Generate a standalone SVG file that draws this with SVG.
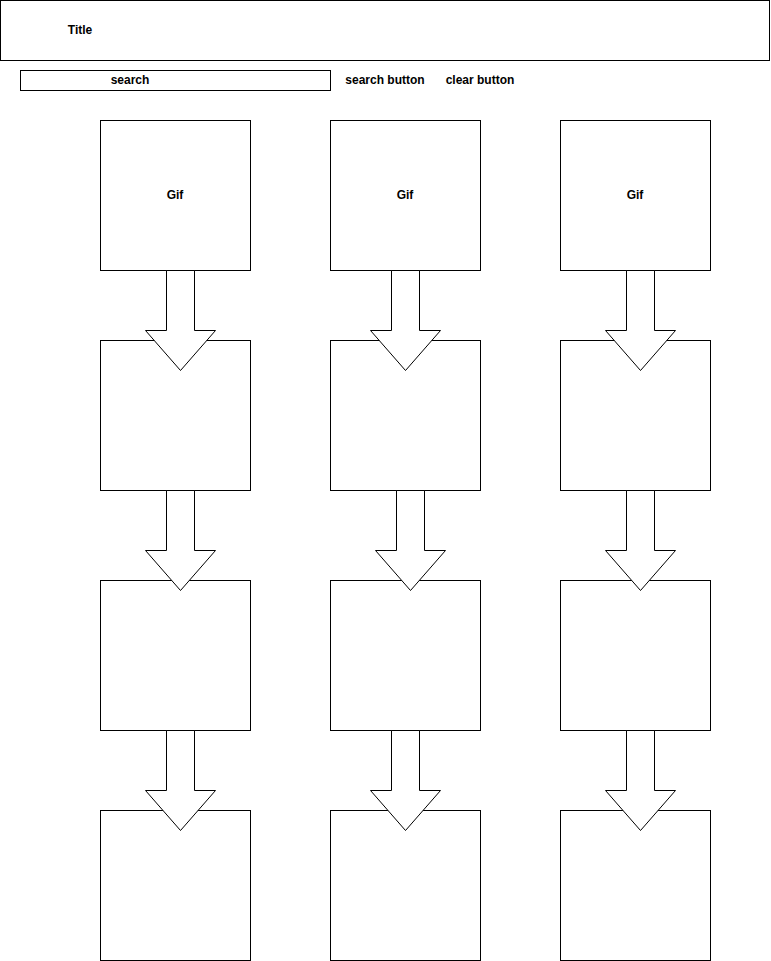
<svg xmlns="http://www.w3.org/2000/svg" width="771" height="961" viewBox="0 0 771 961">
<style>
.b{fill:#fff;stroke:#000;stroke-width:1}
.t{font-family:"Liberation Sans",Arial,sans-serif;font-size:12px;font-weight:bold;fill:#000;text-anchor:middle;dominant-baseline:central}
.a{fill:#fff;stroke:#000;stroke-width:1;stroke-linejoin:miter}
</style>
<rect width="771" height="961" fill="#fff"/>
<g id="title"><rect class="b" x="0.5" y="0.5" width="769" height="60"/><text class="t" x="80" y="30">Title</text></g>
<g id="search"><rect class="b" x="20.5" y="70.5" width="310" height="20"/><text class="t" x="130" y="80">search</text></g>
<g id="search-button"><text class="t" x="385" y="80">search button</text></g>
<g id="clear-button"><text class="t" x="480" y="80">clear button</text></g>
<g id="gif1"><rect class="b" x="100.5" y="120.5" width="150" height="150"/><text class="t" x="175" y="195">Gif</text></g>
<g id="gif2"><rect class="b" x="330.5" y="120.5" width="150" height="150"/><text class="t" x="405" y="195">Gif</text></g>
<g id="gif3"><rect class="b" x="560.5" y="120.5" width="150" height="150"/><text class="t" x="635" y="195">Gif</text></g>
<g id="box-1-2"><rect class="b" x="100.5" y="340.5" width="150" height="150"/></g>
<g id="box-2-2"><rect class="b" x="330.5" y="340.5" width="150" height="150"/></g>
<g id="box-3-2"><rect class="b" x="560.5" y="340.5" width="150" height="150"/></g>
<g id="box-1-3"><rect class="b" x="100.5" y="580.5" width="150" height="150"/></g>
<g id="box-2-3"><rect class="b" x="330.5" y="580.5" width="150" height="150"/></g>
<g id="box-3-3"><rect class="b" x="560.5" y="580.5" width="150" height="150"/></g>
<g id="box-1-4"><rect class="b" x="100.5" y="810.5" width="150" height="150"/></g>
<g id="box-2-4"><rect class="b" x="330.5" y="810.5" width="150" height="150"/></g>
<g id="box-3-4"><rect class="b" x="560.5" y="810.5" width="150" height="150"/></g>
<g id="connectors">
<polygon class="a" points="166.5,270.5 194.5,270.5 194.5,330.5 215.5,330.5 180.5,370.5 145.5,330.5 166.5,330.5"/>
<polygon class="a" points="391.5,270.5 419.5,270.5 419.5,330.5 440.5,330.5 405.5,370.5 370.5,330.5 391.5,330.5"/>
<polygon class="a" points="626.5,270.5 654.5,270.5 654.5,330.5 675.5,330.5 640.5,370.5 605.5,330.5 626.5,330.5"/>
<polygon class="a" points="166.5,490.5 194.5,490.5 194.5,550.5 215.5,550.5 180.5,590.5 145.5,550.5 166.5,550.5"/>
<polygon class="a" points="396.5,490.5 424.5,490.5 424.5,550.5 445.5,550.5 410.5,590.5 375.5,550.5 396.5,550.5"/>
<polygon class="a" points="626.5,490.5 654.5,490.5 654.5,550.5 675.5,550.5 640.5,590.5 605.5,550.5 626.5,550.5"/>
<polygon class="a" points="166.5,730.5 194.5,730.5 194.5,790.5 215.5,790.5 180.5,830.5 145.5,790.5 166.5,790.5"/>
<polygon class="a" points="391.5,730.5 419.5,730.5 419.5,790.5 440.5,790.5 405.5,830.5 370.5,790.5 391.5,790.5"/>
<polygon class="a" points="626.5,730.5 654.5,730.5 654.5,790.5 675.5,790.5 640.5,830.5 605.5,790.5 626.5,790.5"/>
</g>
</svg>
